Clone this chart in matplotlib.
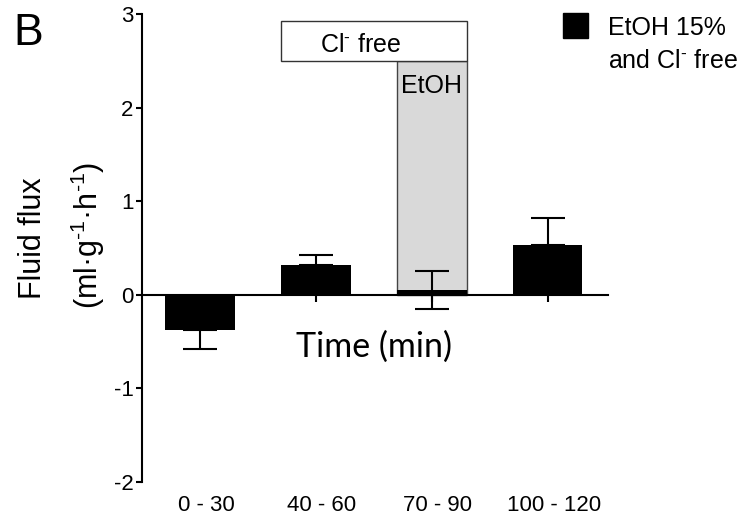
import matplotlib
matplotlib.use('Agg')
import matplotlib.pyplot as plt
from matplotlib.patches import Rectangle
from matplotlib.transforms import ScaledTranslation

# data
groups = ['0 - 30', '40 - 60', '70 - 90', '100 - 120']
flux = [-0.38, 0.32, 0.05, 0.53]
err_lo = [0.20, 0.0, 0.20, 0.0]
err_hi = [0.0, 0.11, 0.20, 0.29]

plt.rcParams['font.family'] = ['Liberation Sans', 'DejaVu Sans']
plt.rcParams['axes.unicode_minus'] = False
plt.rcParams['mathtext.fontset'] = 'custom'
plt.rcParams['mathtext.rm'] = 'Liberation Sans'
plt.rcParams['mathtext.it'] = 'Liberation Sans:italic'
plt.rcParams['mathtext.bf'] = 'Liberation Sans:bold'

CL = r'Cl$^{\text{-}}$'

fig = plt.figure(figsize=(7.4, 5.2), dpi=100)
ax = fig.add_axes([142/740, 38/520, 466/740, 468/520])
x = list(range(len(groups)))
w = 0.6

# EtOH period (shaded) and Cl- free period (white box)
ax.add_patch(Rectangle((x[2]-w/2, 0), w, 2.5, facecolor='#d9d9d9', edgecolor='#444444', lw=1, zorder=1))
ax.add_patch(Rectangle((x[1]-w/2, 2.5), x[2]-x[1]+w, 0.43, facecolor='white', edgecolor='#333333', lw=1, zorder=1, clip_on=False))
ax.text(1.39, 2.59, CL + ' free', fontsize=18, ha='center', va='baseline')
ax.text(x[2], 2.16, 'EtOH', fontsize=18, ha='center', va='baseline')

ax.bar(x, flux, width=w, color='black', zorder=2)
ax.errorbar(x, flux, yerr=[err_lo, err_hi], fmt='none', ecolor='black', elinewidth=1.5,
            capsize=12, capthick=1.5, zorder=3)

ax.set_xlim(-0.5, 3.52)
ax.set_ylim(-2, 3)
ax.set_yticks([-2, -1, 0, 1, 2, 3])
ax.set_xticks(x)
ax.set_xticklabels(groups)
ax.spines['top'].set_visible(False)
ax.spines['right'].set_visible(False)
ax.spines['bottom'].set_position(('data', 0))
ax.spines['bottom'].set_zorder(4)
for s in ['left', 'bottom']:
    ax.spines[s].set_linewidth(1.5)
ax.tick_params(axis='y', labelsize=16, length=4, width=1.5, pad=2)
ax.tick_params(axis='x', labelsize=16, length=5, width=1.5, pad=139)
for lab in ax.get_xticklabels():
    lab.set_transform(lab.get_transform() + ScaledTranslation(0.06, 0, fig.dpi_scale_trans))

ax.text(1.5, -0.56, 'Time (min)', fontsize=24.5, family='Lato', ha='center', va='center')

# y label in two lines
fig.text(33/740, 1-238/520, 'Fluid flux', fontsize=22, rotation=90, ha='center', va='center')
fig.text(88/740, 1-235/520, r'(ml·g$^{\text{-1}}$·h$^{\text{-1}}$)', fontsize=22, rotation=90,
         ha='center', va='center')

fig.text(13/740, 1-45/520, 'B', fontsize=32, va='baseline')

# legend key
fig.patches.append(Rectangle((563/740, 1-38/520), 25/740, 25/520, facecolor='black',
                             edgecolor='black', transform=fig.transFigure, figure=fig))
fig.text(608/740, 1-35/520, 'EtOH 15%', fontsize=18, va='baseline')
fig.text(608/740, 1-68/520, 'and ' + CL + ' free', fontsize=18, va='baseline')

fig.savefig('out.png', dpi=100)
